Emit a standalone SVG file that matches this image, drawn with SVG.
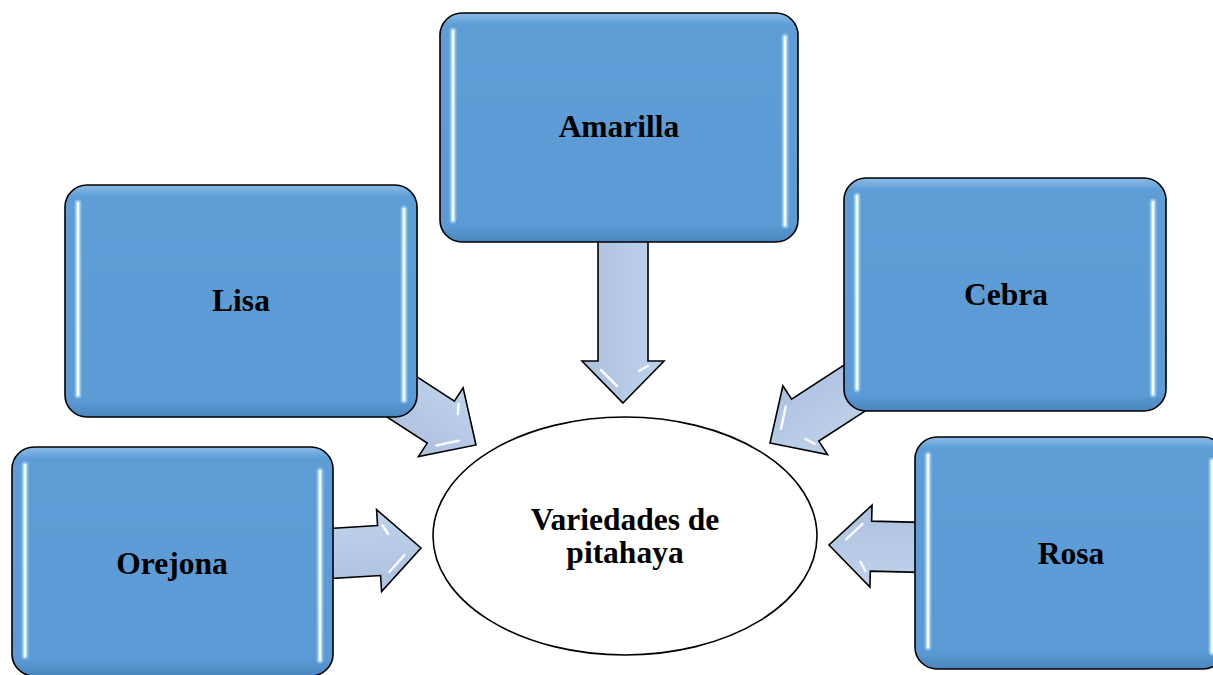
<svg xmlns="http://www.w3.org/2000/svg" width="1213" height="675" viewBox="0 0 1213 675">
<style>
.box{fill:url(#boxGrad);stroke:#000;stroke-width:1.6}
.glow{stroke:#a9d6f7;stroke-width:7;stroke-linecap:round;opacity:.6;fill:none}
.hl{stroke:#f2fbff;stroke-width:3;stroke-linecap:round;fill:none}
.arrow{fill:url(#arrGrad);stroke:#000;stroke-width:1.6;stroke-linejoin:miter}
.shine{stroke:#fff;stroke-width:2.5;stroke-linecap:round;fill:none;opacity:.9}
.lbl{font-family:"Liberation Serif","Times New Roman",serif;font-weight:bold;font-size:31.5px;fill:#000;text-anchor:middle}
</style>
<defs>
<linearGradient id="boxGrad" x1="0" y1="0" x2="0" y2="1">
<stop offset="0" stop-color="#8dbde8"/>
<stop offset="0.05" stop-color="#5e9dd6"/>
<stop offset="0.93" stop-color="#5b9ad4"/>
<stop offset="1" stop-color="#4a85bf"/>
</linearGradient>
<linearGradient id="arrGrad" x1="0" y1="0" x2="0" y2="1">
<stop offset="0" stop-color="#c0d2eb"/>
<stop offset="0.5" stop-color="#b6cae6"/>
<stop offset="1" stop-color="#adc1e0"/>
</linearGradient>
<g id="arr110">
<path class="arrow" d="M0 0 L-42 -41 L-42 -25 L-110 -25 L-110 25 L-42 25 L-42 41 Z"/>
<path class="shine" d="M-33 22 L-17 6"/>
<path class="shine" d="M-32 -16 L-37 -25" stroke-width="1.8"/>
</g>
</defs>
<rect width="1213" height="675" fill="#fff"/>
<g id="connectors">
<path class="arrow" d="M0 0 L-42 -41 L-42 -25 L-175 -25 L-175 25 L-42 25 L-42 41 Z" transform="translate(623 403) rotate(90)"/>
<g transform="translate(623 403) rotate(90)"><path class="shine" d="M-33 22 L-17 6"/><path class="shine" d="M-32 -16 L-37 -25" stroke-width="1.8"/></g>
<use href="#arr110" transform="translate(476 445) rotate(33)"/>
<use href="#arr110" transform="translate(770 443) rotate(147)"/>
<use href="#arr110" transform="translate(421 548) rotate(-3.5)"/>
<use href="#arr110" transform="translate(829 545) rotate(181.5)"/>
</g>
<g id="node-amarilla">
<rect class="box" x="440" y="13" width="358" height="229" rx="22"/>
<path class="glow" d="M453 31 V220 M785 37 V225"/>
<path class="hl" d="M453 31 V220 M785 37 V225"/>
<text class="lbl" x="619" y="137">Amarilla</text>
</g>
<g id="node-lisa">
<rect class="box" x="65" y="185" width="352" height="232" rx="22"/>
<path class="glow" d="M78 203 V395 M404 209 V400"/>
<path class="hl" d="M78 203 V395 M404 209 V400"/>
<text class="lbl" x="241" y="311">Lisa</text>
</g>
<g id="node-cebra">
<rect class="box" x="844" y="178" width="322" height="233" rx="22"/>
<path class="glow" d="M857 196 V389 M1153 202 V394"/>
<path class="hl" d="M857 196 V389 M1153 202 V394"/>
<text class="lbl" x="1006" y="305">Cebra</text>
</g>
<g id="node-orejona">
<rect class="box" x="12" y="447" width="321" height="229" rx="22"/>
<path class="glow" d="M25 465 V656 M320 471 V660"/>
<path class="hl" d="M25 465 V656 M320 471 V660"/>
<text class="lbl" x="172" y="574">Orejona</text>
</g>
<g id="node-rosa">
<rect class="box" x="915" y="437" width="310" height="232" rx="22"/>
<path class="glow" d="M928 455 V647 M1212 461 V652"/>
<path class="hl" d="M928 455 V647 M1212 461 V652"/>
<text class="lbl" x="1071" y="564">Rosa</text>
</g>
<g id="node-center">
<ellipse cx="625" cy="536" rx="192" ry="119" fill="#fff" stroke="#000" stroke-width="1.6"/>
<text class="lbl" x="625" y="530">Variedades de</text>
<text class="lbl" x="625" y="563">pitahaya</text>
</g>
</svg>
